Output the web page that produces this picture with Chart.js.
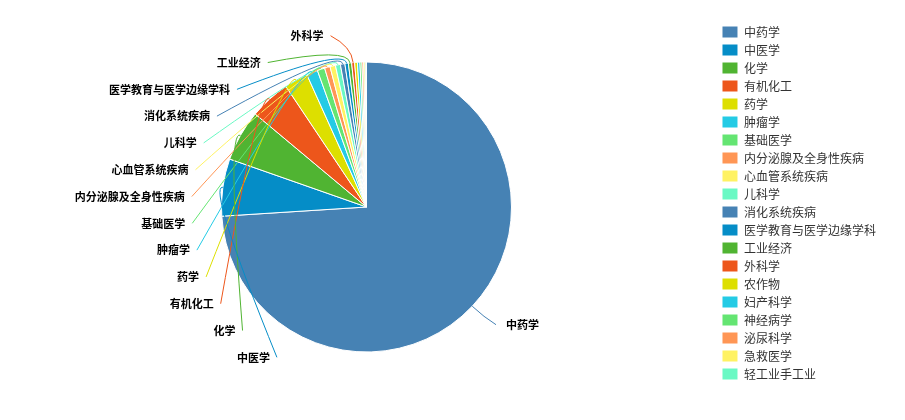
<!DOCTYPE html>
<html lang="zh">
<head>
    <meta charset="UTF-8">
    <title>学科分布</title>
    <script src="https://cdn.jsdelivr.net/npm/chart.js"></script>
    <style>
        body {
            margin: 0;
            padding: 0;
            background-color: #ffffff;
        }
        .chart-box {
            width: 905px;
            height: 420px;
        }
    </style>
</head>
<body>
    <div class="chart-box">
        <canvas id="pieChart"></canvas>
    </div>
    <script>
        const subjects = ['中药学', '中医学', '化学', '有机化工', '药学', '肿瘤学', '基础医学',
            '内分泌腺及全身性疾病', '心血管系统疾病', '儿科学', '消化系统疾病', '医学教育与医学边缘学科',
            '工业经济', '外科学', '农作物', '妇产科学', '神经病学', '泌尿科学', '急救医学', '轻工业手工业'];
        const counts = [2668, 230, 206, 164, 95, 45, 30, 22, 22, 20, 18, 14, 13, 12, 11, 10, 8, 7, 6, 5];
        const palette = ['#4682B4', '#058DC7', '#50B432', '#ED561B', '#DDDF00',
            '#24CBE5', '#64E572', '#FF9655', '#FFF263', '#6AF9C4'];
        const shownLabels = 14; // the rest are hidden, too crowded

        const sliceColors = subjects.map((s, i) => palette[i % palette.length]);

        // outside labels with curved leader lines
        const sliceLabels = {
            id: 'sliceLabels',
            afterDatasetsDraw(chart) {
                const ctx = chart.ctx;
                const meta = chart.getDatasetMeta(0);
                const gap = 26.8;
                const left = [], right = [];
                meta.data.forEach((arc, i) => {
                    if (i >= shownLabels) return;
                    const p = arc.getProps(['x', 'y', 'startAngle', 'endAngle', 'outerRadius'], true);
                    const mid = (p.startAngle + p.endAngle) / 2;
                    const item = {
                        i, cx: p.x, cy: p.y, r: p.outerRadius, rl: p.outerRadius + 30,
                        cos: Math.cos(mid), sin: Math.sin(mid),
                        y: p.y + (p.outerRadius + 27) * Math.sin(mid)
                    };
                    (item.cos < 0 ? left : right).push(item);
                });

                [left, right].forEach((side, s) => {
                    side.sort((a, b) => a.y - b.y);
                    for (let k = 1; k < side.length; k++) {
                        if (side[k].y < side[k - 1].y + gap) side[k].y = side[k - 1].y + gap;
                    }
                    side.forEach(it => {
                        const dy = it.y - it.cy;
                        const dx = Math.abs(dy) < it.rl ? Math.sqrt(it.rl * it.rl - dy * dy) : 0;
                        const dir = s === 0 ? -1 : 1;
                        const ax = it.cx + dir * dx;
                        const x0 = it.cx + it.r * it.cos, y0 = it.cy + it.r * it.sin;
                        const x1 = it.cx + (it.r + 16) * it.cos, y1 = it.cy + (it.r + 16) * it.sin;

                        ctx.save();
                        ctx.strokeStyle = sliceColors[it.i];
                        ctx.lineWidth = 1;
                        ctx.beginPath();
                        ctx.moveTo(x0, y0);
                        ctx.quadraticCurveTo(x1, y1, ax, it.y);
                        ctx.stroke();

                        ctx.fillStyle = '#000000';
                        ctx.font = 'bold 11px "Noto Sans CJK SC"';
                        ctx.textBaseline = 'middle';
                        ctx.textAlign = s === 0 ? 'right' : 'left';
                        ctx.fillText(subjects[it.i], ax + dir * (s === 0 ? 7 : 10), it.y);
                        ctx.restore();
                    });
                });
            }
        };

        Chart.defaults.font.family = '"Noto Sans CJK SC", sans-serif';

        const pieChart = new Chart(document.getElementById('pieChart'), {
            type: 'pie',
            data: {
                labels: subjects,
                datasets: [{
                    data: counts,
                    backgroundColor: sliceColors,
                    borderColor: '#ffffff',
                    borderWidth: 1,
                    radius: 145
                }]
            },
            options: {
                responsive: true,
                maintainAspectRatio: false,
                animation: false,
                events: [],
                layout: {
                    padding: { left: 17, right: 19, top: 0, bottom: 6 }
                },
                plugins: {
                    legend: {
                        position: 'right',
                        align: 'start',
                        title: {
                            display: true,
                            text: ' ',
                            padding: 0,
                            font: { size: 20, lineHeight: 1 }
                        },
                        labels: {
                            boxWidth: 16,
                            boxHeight: 12,
                            padding: 6,
                            color: '#333333',
                            font: { size: 12 }
                        }
                    },
                    tooltip: { enabled: false }
                }
            },
            plugins: [sliceLabels]
        });
    </script>
</body>
</html>
